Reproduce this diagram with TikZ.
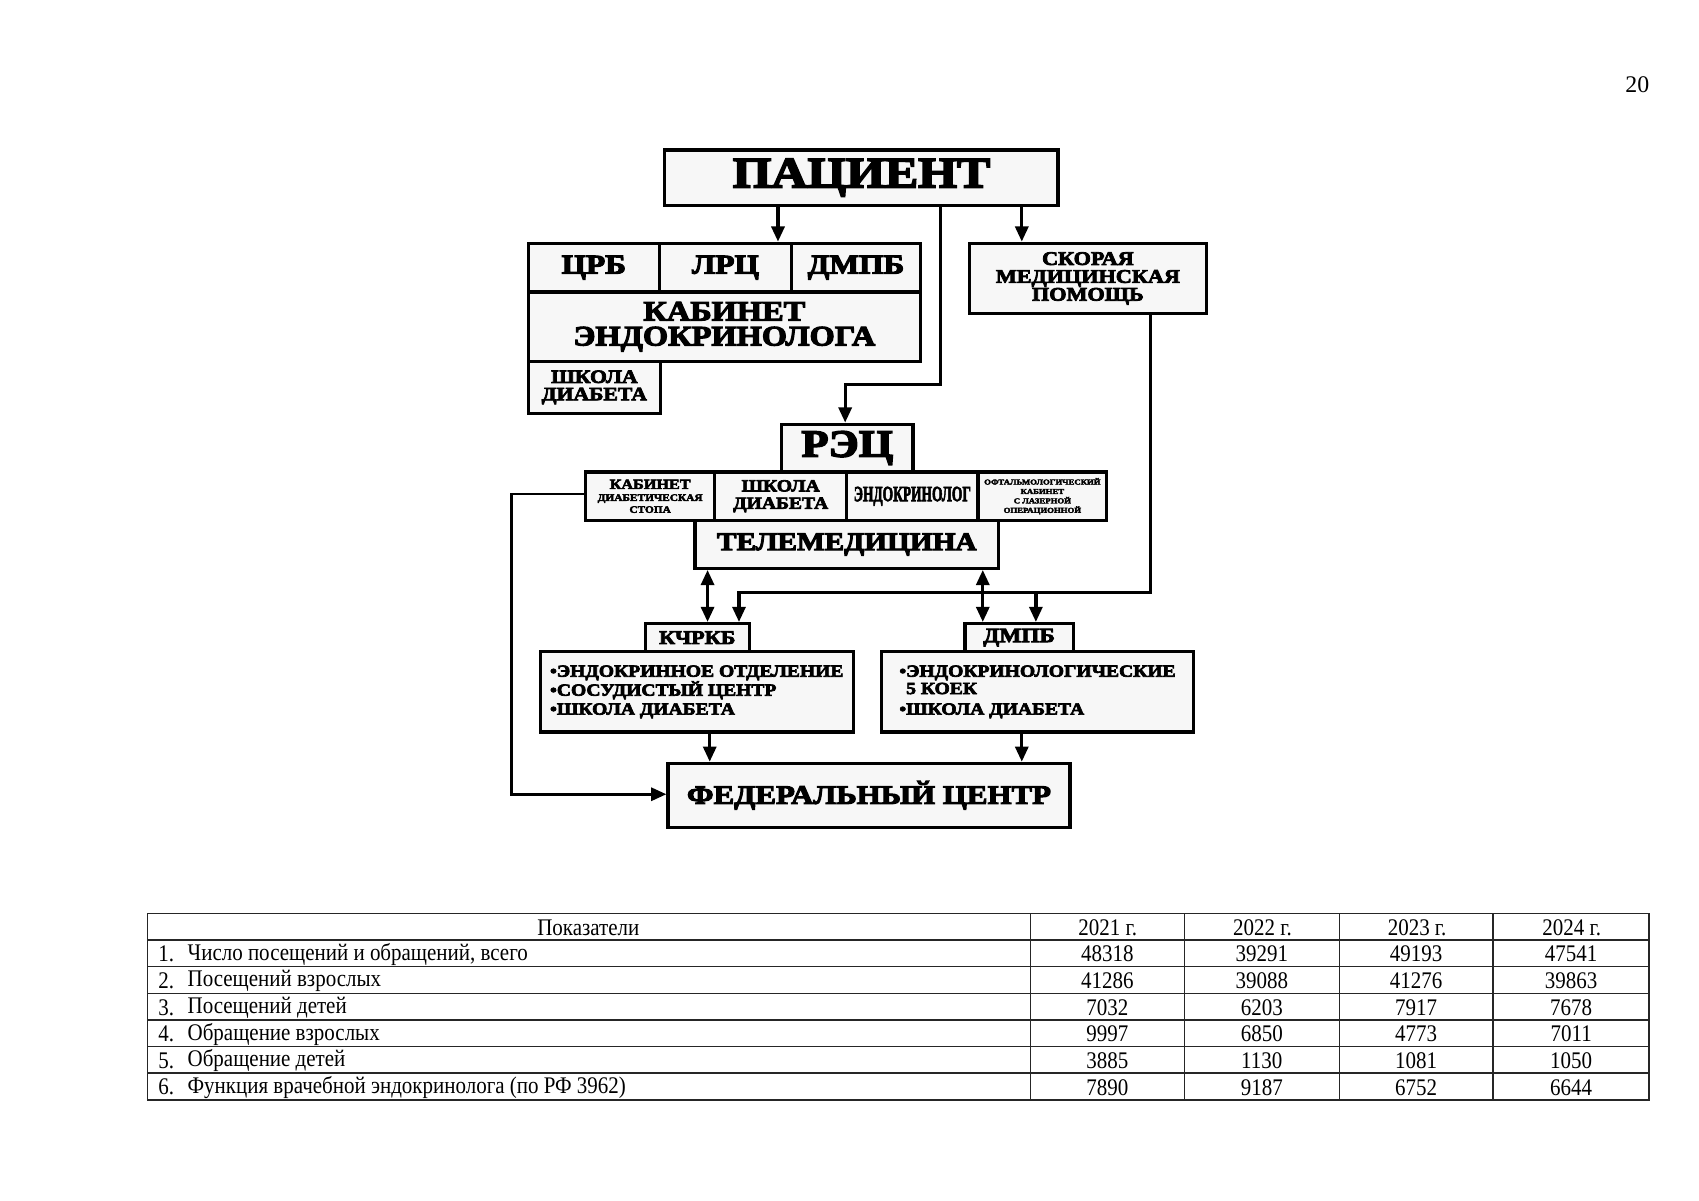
\documentclass[tikz,border=0pt]{standalone}
\usepackage{fontspec}
\usepackage{graphicx}
\setmainfont{Liberation Serif}
\newfontfamily\heavy[FakeStretch=1.15, BoldFeatures={FakeBold=4}]{Liberation Serif}
\newfontfamily\tabf[FakeStretch=0.88]{Liberation Serif}
\usetikzlibrary{arrows.meta}
\newcommand\fs[2]{\fontsize{#1}{#2}\selectfont}

\tikzset{
  bx/.style={draw, line width=3pt, fill=black!3, inner sep=0pt, anchor=north west,
    align=center, font=\heavy\bfseries},
  sz/.style 2 args={font=\heavy\bfseries\fs{#1}{#2}},
  arr/.style={line width=3pt, -{Triangle[length=14pt,width=12pt]}},
  darr/.style={line width=3pt, {Triangle[length=14pt,width=12pt]}-{Triangle[length=14pt,width=12pt]}},
  tline/.style={line width=1.3pt, black!85},
  tcell/.style={inner sep=0pt, font=\tabf\fs{22}{22}},
}

\begin{document}
\begin{tikzpicture}[x=1pt,y=-1pt]
  \useasboundingbox (0,0) rectangle (1568,1107.5);
  \node (PG) at (1511,78) {\fs{22}{22}20};

  % top part
  \node[bx, sz={40}{40}, minimum width=363pt, minimum height=51pt] (PAC) at (612,137) {ПАЦИЕНТ};
  \node[bx, sz={25.2}{25}, minimum width=121pt, minimum height=45pt] (CRB) at (486,223) {ЦРБ};
  \node[bx, sz={25.2}{25}, minimum width=122pt, minimum height=45pt] (LRC) at (607,223) {ЛРЦ};
  \node[bx, sz={25.2}{25}, minimum width=119pt, minimum height=45pt] (DMPB) at (729,223) {ДМПБ};
  \node[bx, sz={26}{23}, minimum width=362pt, minimum height=64pt] (KAB) at (486,268)
    {КАБИНЕТ\\ЭНДОКРИНОЛОГА};
  \node[bx, sz={17.4}{16}, minimum width=122pt, minimum height=48pt] (SHK) at (486,332)
    {ШКОЛА\\ДИАБЕТА};
  \node[bx, sz={17.8}{16.5}, minimum width=219pt, minimum height=65pt] (SMP) at (893,223)
    {СКОРАЯ\\МЕДИЦИНСКАЯ\\ПОМОЩЬ};

  % regional centre
  \node[bx, sz={35.6}{36}, minimum width=121pt, minimum height=44pt] (REC) at (720,390) {РЭЦ};
  \node[bx, sz={9.1}{11}, minimum width=119pt, minimum height=45pt] (KDS) at (539,434)
    {{\fs{13}{12}КАБИНЕТ}\\ДИАБЕТИЧЕСКАЯ\\СТОПА};
  \node[bx, sz={15.7}{16}, minimum width=122pt, minimum height=45pt] (SHD) at (658,434)
    {ШКОЛА\\ДИАБЕТА};
  \node[bx, sz={20}{20}, minimum width=121pt, minimum height=45pt] (END) at (780,434)
    {\scalebox{0.54}[1]{ЭНДОКРИНОЛОГ}};
  \node[bx, sz={7}{8.7}, minimum width=119pt, minimum height=45pt] (OFT) at (901,434)
    {ОФТАЛЬМОЛОГИЧЕСКИЙ\\КАБИНЕТ\\С ЛАЗЕРНОЙ\\ОПЕРАЦИОННОЙ};
  \node[bx, sz={23.5}{24}, minimum width=280pt, minimum height=44pt] (TEL) at (640,479) {ТЕЛЕМЕДИЦИНА};

  % hospitals
  \node[bx, sz={17.8}{18}, minimum width=96pt, minimum height=26pt] (KCH) at (594,574) {КЧРКБ};
  \node[bx, sz={15.7}{17.5}, minimum width=289pt, minimum height=74pt, align=left] (KCHL) at (497,600)
    {•ЭНДОКРИННОЕ ОТДЕЛЕНИЕ\\•СОСУДИСТЫЙ ЦЕНТР\\•ШКОЛА ДИАБЕТА};
  \node[bx, sz={18.7}{18}, minimum width=100pt, minimum height=26pt] (DMP) at (889,574) {ДМПБ};
  \node[bx, sz={15.7}{16}, minimum width=288pt, minimum height=74pt, align=left] (DMPL) at (812,600)
    {•ЭНДОКРИНОЛОГИЧЕСКИЕ\\\phantom{•}5 КОЕК\\[3pt]•ШКОЛА ДИАБЕТА};
  \node[bx, sz={24.8}{25}, minimum width=371pt, minimum height=59pt] (FED) at (615,703) {ФЕДЕРАЛЬНЫЙ ЦЕНТР};

  % connectors
  \coordinate (p1) at (718,0);
  \coordinate (p2) at (943,0);
  \coordinate (p3) at (868,355);
  \coordinate (p4) at (780,355);
  \coordinate (s1) at (1062,547);
  \coordinate (s2) at (682,547);
  \coordinate (s3) at (956,547);
  \coordinate (t1) at (653,0);
  \coordinate (t2) at (907,0);
  \coordinate (f1) at (655,0);
  \coordinate (f2) at (943,0);
  \coordinate (l1) at (472,456);
  \coordinate (l2) at (472,733);

  \draw[arr] (PAC.south -| p1) -- (LRC.north -| p1);
  \draw[arr] (PAC.south -| p2) -- (SMP.north -| p2);
  \draw[arr] (PAC.south -| p3) -- (p3) -- (p4) -- (REC.north -| p4);
  \draw[arr] (SMP.south -| s1) -- (s1) -- (s2) -- (KCH.north -| s2);
  \draw[arr] (s3) -- (DMP.north -| s3);
  \draw[darr] (TEL.south -| t1) -- (KCH.north -| t1);
  \draw[darr] (TEL.south -| t2) -- (DMP.north -| t2);
  \draw[arr] (KCHL.south -| f1) -- (FED.north -| f1);
  \draw[arr] (DMPL.south -| f2) -- (FED.north -| f2);
  \draw[arr, line width=2.5pt] (KDS.west |- l1) -- (l1) -- (l2) -- (FED.west |- l2);

  % table
  \draw[tline] (136,843) rectangle (1522,1015);
  \foreach \i in {1,...,6}
    \draw[tline] (136,843+\i*24.57) -- (1522,843+\i*24.57);
  \foreach \x in {951,1093,1236,1378}
    \draw[tline] (\x,843) -- (\x,1015);
  \node[tcell] (H0) at (543,856) {Показатели};
  \foreach \y [count=\j] in {2021,2022,2023,2024}
    \node[tcell] (H\j) at (951+\j*142.75-71.4,856) {\y\ г.};
  \foreach \n/\t/\a/\b/\c/\d [count=\i] in {
      1/{Число посещений и обращений, всего}/48318/39291/49193/47541,
      2/Посещений взрослых/41286/39088/41276/39863,
      3/Посещений детей/7032/6203/7917/7678,
      4/Обращение взрослых/9997/6850/4773/7011,
      5/Обращение детей/3885/1130/1081/1050,
      6/Функция врачебной эндокринолога (по РФ 3962)/7890/9187/6752/6644}
  {
    \node[tcell, anchor=west] (N\i) at (146,856+\i*24.57) {\n.};
    \node[tcell, anchor=west] (T\i) at (173,856+\i*24.57) {\t};
    \node[tcell] (A\i) at (1022,856+\i*24.57) {\a};
    \node[tcell] (B\i) at (1164.5,856+\i*24.57) {\b};
    \node[tcell] (C\i) at (1307,856+\i*24.57) {\c};
    \node[tcell] (D\i) at (1450,856+\i*24.57) {\d};
  }
\end{tikzpicture}
\end{document}
